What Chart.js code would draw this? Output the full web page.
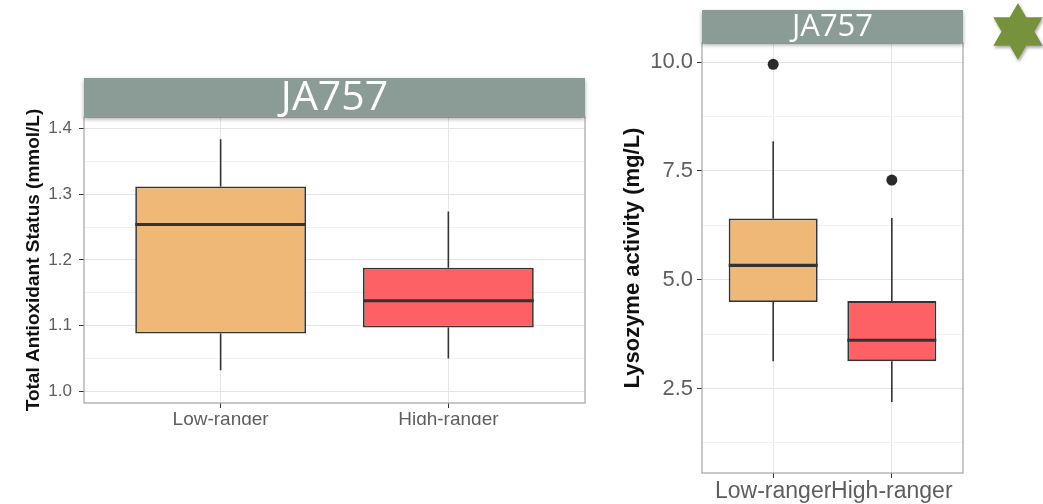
<!DOCTYPE html>
<html>
<head>
<meta charset="utf-8">
<script src="https://cdn.jsdelivr.net/npm/chart.js@4.4.1/dist/chart.umd.min.js"></script>
<style>
  body { margin: 0; background: #fff; width: 1043px; height: 504px; overflow: hidden; position: relative; }
  #tas { position: absolute; left: 0; top: 0; }
  #lyso { position: absolute; left: 600px; top: 0; }
  #star { position: absolute; left: 982px; top: 0; }
</style>
</head>
<body>
<canvas id="tas" width="600" height="425"></canvas>
<canvas id="lyso" width="400" height="504"></canvas>
<svg id="star" width="72" height="72">
  <defs>
    <filter id="shadow" x="-30%" y="-30%" width="160%" height="160%">
      <feDropShadow dx="1" dy="2" stdDeviation="1.5" flood-color="#000" flood-opacity="0.35"/>
    </filter>
  </defs>
  <polygon id="starShape" fill="#76923c" filter="url(#shadow)"/>
</svg>
<script>
const categories = ['Low-ranger', 'High-ranger'];
const boxColors = ['#efb877', '#fd6166'];

// Total antioxidant status (mmol/L)
const tasMin = [1.032, 1.050];
const tasQ1 = [1.088, 1.097];
const tasMedian = [1.254, 1.138];
const tasQ3 = [1.312, 1.188];
const tasMax = [1.384, 1.274];
const tasOutliers = [[], []];
const tasTicks = [1.0, 1.1, 1.2, 1.3, 1.4];

// Lysozyme activity (mg/L)
const lysoMin = [3.13, 2.19];
const lysoQ1 = [4.49, 3.13];
const lysoMedian = [5.33, 3.61];
const lysoQ3 = [6.41, 4.51];
const lysoMax = [8.18, 6.42];
const lysoOutliers = [[9.95], [7.29]];
const lysoTicks = [2.5, 5.0, 7.5, 10.0];

Chart.defaults.font.family = '"Liberation Sans", Arial, sans-serif';
Chart.defaults.animation = false;

const boxplotPlugin = {
  id: 'boxplot',
  afterDatasetsDraw(chart, args, o) {
    const { ctx, scales: { x, y } } = chart;
    const bars = chart.getDatasetMeta(0).data;
    ctx.save();
    ctx.strokeStyle = '#333';
    o.median.forEach((m, i) => {
      const cx = x.getPixelForValue(i + 1);
      const half = bars[i].width / 2;
      ctx.lineWidth = o.whiskerWidth;
      ctx.beginPath();
      ctx.moveTo(cx, y.getPixelForValue(o.q3[i]));
      ctx.lineTo(cx, y.getPixelForValue(o.max[i]));
      ctx.moveTo(cx, y.getPixelForValue(o.q1[i]));
      ctx.lineTo(cx, y.getPixelForValue(o.min[i]));
      ctx.stroke();
      ctx.lineWidth = o.medianWidth;
      ctx.beginPath();
      ctx.moveTo(cx - half, y.getPixelForValue(m));
      ctx.lineTo(cx + half, y.getPixelForValue(m));
      ctx.stroke();
    });
    ctx.restore();
  },
  afterDraw(chart, args, o) {
    const { ctx, chartArea: a } = chart;
    ctx.save();
    ctx.strokeStyle = '#a3a3a3';
    ctx.lineWidth = 1.2;
    ctx.strokeRect(a.left, a.top, a.right - a.left, a.bottom - a.top);
    // facet strip
    ctx.shadowColor = 'rgba(0,0,0,0.35)';
    ctx.shadowBlur = 4;
    ctx.shadowOffsetY = 2;
    ctx.fillStyle = '#8b9c96';
    ctx.fillRect(a.left, a.top - o.stripHeight, a.right - a.left, o.stripHeight);
    ctx.shadowColor = 'transparent';
    ctx.fillStyle = '#fff';
    ctx.font = o.stripFont + 'px "Open Sans", sans-serif';
    ctx.textAlign = 'center';
    ctx.textBaseline = 'middle';
    ctx.fillText(o.stripText, (a.left + a.right) / 2, a.top - o.stripHeight / 2 + 1);
    ctx.restore();
  }
};

function makePanel(id, p) {
  const step = p.ticks[1] - p.ticks[0];
  const gridValues = [];
  for (let v = p.ticks[0] - step / 2; v <= p.yMax; v += step / 2) {
    if (v >= p.yMin) gridValues.push(v);
  }
  const isMajor = v => p.ticks.some(t => Math.abs(t - v) < 1e-9);
  const outlierPoints = [];
  p.outliers.forEach((list, i) => list.forEach(v => outlierPoints.push({ x: i + 1, y: v })));

  return new Chart(document.getElementById(id), {
    type: 'bar',
    data: {
      datasets: [
        {
          data: categories.map((c, i) => ({ x: i + 1, y: [p.q1[i], p.q3[i]] })),
          backgroundColor: boxColors,
          borderColor: '#333',
          borderWidth: p.boxBorder,
          borderSkipped: false,
          barPercentage: 0.75,
          categoryPercentage: 1
        },
        {
          type: 'scatter',
          data: outlierPoints,
          pointRadius: p.pointRadius,
          pointBackgroundColor: '#2b2b2b',
          pointBorderWidth: 0
        }
      ]
    },
    options: {
      responsive: false,
      layout: { padding: { top: p.padTop, right: p.padRight, left: 0, bottom: 0 } },
      plugins: {
        legend: { display: false },
        tooltip: { enabled: false },
        boxplot: {
          q1: p.q1, q3: p.q3, min: p.min, max: p.max, median: p.median,
          whiskerWidth: p.whiskerWidth, medianWidth: p.medianWidth,
          stripText: 'JA757', stripHeight: p.stripHeight, stripFont: p.stripFont
        }
      },
      scales: {
        x: {
          type: 'linear',
          min: 0.4,
          max: 2.6,
          offset: false,
          bounds: 'data',
          afterBuildTicks: s => { s.ticks = categories.map((c, i) => ({ value: i + 1 })); },
          afterFit: s => { s.height = p.xAxisHeight; },
          ticks: {
            autoSkip: false,
            maxRotation: 0,
            color: '#5e5e5e',
            font: { size: p.xFont },
            padding: p.xPad,
            callback: v => categories[v - 1] ?? ''
          },
          grid: { color: '#e6e6e6', tickLength: p.tickLen, tickColor: '#333', offset: false },
          border: { display: false }
        },
        y: {
          min: p.yMin,
          max: p.yMax,
          afterBuildTicks: s => { s.ticks = gridValues.map(v => ({ value: v })); },
          afterFit: s => { s.width = p.yAxisWidth; },
          ticks: {
            autoSkip: false,
            color: '#5e5e5e',
            font: { size: p.yFont },
            padding: p.yPad,
            callback: v => isMajor(v) ? v.toFixed(1) : ''
          },
          grid: {
            color: c => isMajor(c.tick.value) ? '#e4e4e4' : '#f2f2f2',
            tickColor: c => isMajor(c.tick.value) ? '#333' : 'rgba(0,0,0,0)',
            tickLength: p.tickLen
          },
          border: { display: false },
          title: {
            display: true,
            text: p.yTitle,
            color: '#111',
            font: { size: p.titleFont, weight: 'bold' },
            padding: { top: p.titlePad, bottom: 0 }
          }
        }
      }
    },
    plugins: [boxplotPlugin]
  });
}

makePanel('tas', {
  q1: tasQ1, q3: tasQ3, min: tasMin, max: tasMax, median: tasMedian, outliers: tasOutliers,
  ticks: tasTicks, yMin: 0.982, yMax: 1.418,
  yTitle: 'Total Antioxidant Status (mmol/L)',
  padTop: 117, padRight: 15, yAxisWidth: 84, xAxisHeight: 22,
  xFont: 19, yFont: 17, titleFont: 19, titlePad: 22, xPad: 0, yPad: 7, tickLen: 5,
  boxBorder: 1.7, whiskerWidth: 1.6, medianWidth: 3, pointRadius: 5,
  stripHeight: 39, stripFont: 41
});

makePanel('lyso', {
  q1: lysoQ1, q3: lysoQ3, min: lysoMin, max: lysoMax, median: lysoMedian, outliers: lysoOutliers,
  ticks: lysoTicks, yMin: 0.56, yMax: 10.44,
  yTitle: 'Lysozyme activity (mg/L)',
  padTop: 43, padRight: 37, yAxisWidth: 102, xAxisHeight: 31,
  xFont: 23, yFont: 22, titleFont: 22, titlePad: 20, xPad: 0, yPad: 4, tickLen: 5,
  boxBorder: 1.8, whiskerWidth: 1.6, medianWidth: 3.2, pointRadius: 5.5,
  stripHeight: 33, stripFont: 31
});

// decorative six-pointed star
const pts = [];
for (let k = 0; k < 12; k++) {
  const r = k % 2 === 0 ? 28.5 : 16.5;
  const ang = -Math.PI / 2 + k * Math.PI / 6;
  pts.push((36 + r * Math.cos(ang)).toFixed(1) + ',' + (31.5 + r * Math.sin(ang)).toFixed(1));
}
document.getElementById('starShape').setAttribute('points', pts.join(' '));
</script>
</body>
</html>
